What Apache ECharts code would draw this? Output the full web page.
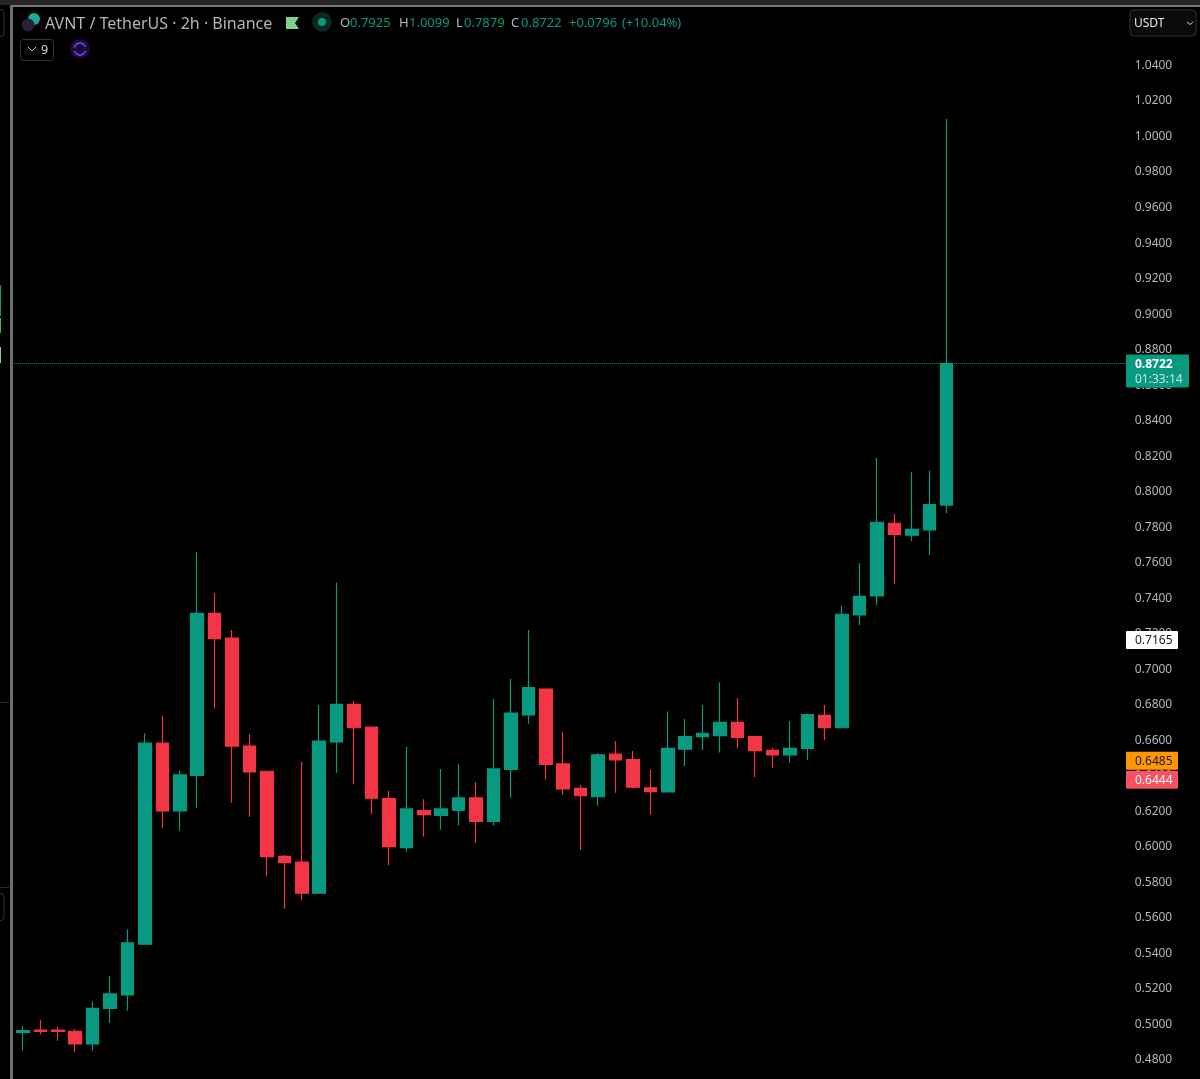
<!DOCTYPE html>
<html>
<head>
<meta charset="utf-8">
<title>AVNT / TetherUS</title>
<script src="https://cdn.jsdelivr.net/npm/echarts@6/dist/echarts.min.js"></script>
<style>
  html, body { margin: 0; padding: 0; background: #000; }
  #chart { width: 1200px; height: 1079px; }
</style>
</head>
<body>
<div id="chart"></div>
<script>
// candles, oldest first
const opens = [0.4955, 0.4969, 0.4969, 0.4962, 0.4890, 0.5091, 0.5166, 0.5452, 0.6584, 0.6202, 0.6403, 0.7315, 0.7176, 0.6568, 0.6426, 0.5947, 0.5914, 0.5739, 0.6591, 0.6803, 0.6674, 0.6272, 0.5996, 0.6204, 0.6178, 0.6206, 0.6276, 0.6144, 0.6437, 0.6743, 0.6889, 0.6467, 0.6330, 0.6283, 0.6522, 0.6491, 0.6333, 0.6309, 0.6550, 0.6621, 0.6626, 0.6702, 0.6621, 0.6544, 0.6518, 0.6555, 0.6741, 0.6671, 0.7306, 0.7413, 0.7822, 0.7755, 0.7785, 0.7925];
const closes = [0.4965, 0.4961, 0.4961, 0.4890, 0.5091, 0.5172, 0.5459, 0.6584, 0.6202, 0.6405, 0.7315, 0.7172, 0.6567, 0.6422, 0.5945, 0.5911, 0.5739, 0.6596, 0.6803, 0.6671, 0.6274, 0.6001, 0.6214, 0.6182, 0.6214, 0.6276, 0.6144, 0.6439, 0.6754, 0.6897, 0.6465, 0.6326, 0.6288, 0.6519, 0.6490, 0.6336, 0.6311, 0.6555, 0.6621, 0.6640, 0.6702, 0.6617, 0.6542, 0.6518, 0.6555, 0.6745, 0.6671, 0.7310, 0.7411, 0.7828, 0.7760, 0.7788, 0.7927, 0.8722];
const lows = [0.4853, 0.4943, 0.4909, 0.4847, 0.4853, 0.5010, 0.5078, 0.5452, 0.6107, 0.6091, 0.6221, 0.6781, 0.6249, 0.6170, 0.5838, 0.5652, 0.5703, 0.5739, 0.6418, 0.6356, 0.6187, 0.5898, 0.5973, 0.6058, 0.6097, 0.6120, 0.6024, 0.6120, 0.6277, 0.6694, 0.6379, 0.6294, 0.5983, 0.6232, 0.6305, 0.6330, 0.6182, 0.6309, 0.6456, 0.6546, 0.6531, 0.6555, 0.6394, 0.6446, 0.6474, 0.6490, 0.6602, 0.6671, 0.7250, 0.7362, 0.7482, 0.7723, 0.7644, 0.7879];
const highs = [0.4992, 0.5026, 0.4986, 0.4973, 0.5129, 0.5273, 0.5536, 0.6640, 0.6737, 0.6429, 0.7661, 0.7428, 0.7222, 0.6636, 0.6428, 0.5955, 0.6478, 0.6799, 0.7488, 0.6820, 0.6675, 0.6315, 0.6564, 0.6268, 0.6439, 0.6465, 0.6364, 0.6833, 0.6946, 0.7222, 0.6889, 0.6646, 0.6349, 0.6529, 0.6596, 0.6540, 0.6435, 0.6762, 0.6720, 0.6799, 0.6927, 0.6837, 0.6621, 0.6559, 0.6709, 0.6750, 0.6799, 0.7358, 0.7597, 0.8190, 0.7875, 0.8113, 0.8119, 1.0099];

// price tags on the right scale
const tagPrices = [0.7165, 0.6485, 0.6444];
const tagFills = ['#ffffff', '#ff9800', '#f7525f'];
const tagTexts = ['#131722', '#131722', '#ffffff'];
const lastPrice = 0.8722;
const countdown = '01:33:14';

const UP = '#089981';
const DOWN = '#f23645';
const FONT = '"Noto Sans", "Open Sans", sans-serif';

// 10 empty slots on the right, the chart keeps room for future bars
const categories = [];
for (let i = 0; i < 64; i++) categories.push(String(i));
const candles = opens.map((o, i) => [o, closes[i], lows[i], highs[i]]);

const myChart = echarts.init(document.getElementById('chart'));

myChart.setOption({
  animation: false,
  backgroundColor: '#000000',
  grid: { left: 14.2, top: 30, width: 1115.5, height: 1030 },
  xAxis: { type: 'category', data: categories, show: false },
  yAxis: {
    type: 'value',
    position: 'right',
    min: 0.48,
    max: 1.06,
    interval: 0.02,
    axisLine: { show: false },
    axisTick: { show: false },
    splitLine: { show: false },
    axisLabel: {
      margin: 5,
      padding: [2, 0, 0, 0],
      color: '#b2b5be',
      fontFamily: FONT,
      fontSize: 12,
      // 1.06 sits behind the currency button
      formatter: v => (v > 1.05 ? '' : v.toFixed(4))
    }
  },
  series: [
    {
      type: 'candlestick',
      data: candles,
      barWidth: 13,
      itemStyle: { color: UP, color0: DOWN, borderColor: UP, borderColor0: DOWN, borderWidth: 1.2 },
      markLine: {
        silent: true,
        symbol: 'none',
        precision: 4, // default of 2 moves the line to 0.87
        label: { show: false },
        lineStyle: { color: UP, type: 'dotted', width: 1 },
        data: [{ yAxis: lastPrice }]
      }
    }
  ]
});

function label(text, x, y, fill, size, weight) {
  return {
    type: 'text', z: 100, x, y,
    style: { text, fill, font: (weight || 'normal') + ' ' + size + 'px ' + FONT, textVerticalAlign: 'middle' }
  };
}
function box(x, y, width, height, fill, stroke, r) {
  return {
    type: 'rect', z: 99,
    shape: { x, y, width, height, r: r || 0 },
    style: { fill, stroke: stroke || 'none', lineWidth: 1 }
  };
}

// tags follow the axis, a tag that would overlap the one above gets pushed down
const els = [];
const yOf = p => myChart.convertToPixel({ yAxisIndex: 0 }, p);
let prevBottom = -1;
tagPrices.forEach((p, i) => {
  const top = Math.max(yOf(p) - 9, prevBottom + 1);
  els.push(box(1126, top, 52, 18, tagFills[i], null, 1));
  els.push(label(p.toFixed(4), 1135, top + 9.5, tagTexts[i], 12));
  prevBottom = top + 18;
});
const lastTop = yOf(lastPrice) - 9;
els.push(box(1126, lastTop, 63, 33, UP, null, 1));
els.push(label(lastPrice.toFixed(4), 1135, lastTop + 10, '#ffffff', 12, 'bold'));
els.push(label(countdown, 1135, lastTop + 25, '#c4e6df', 12));

// window frame
els.push(box(0, 0, 1200, 5, '#262626'));
els.push(box(13, 5, 1187, 2, '#7a7a7a'));
els.push(box(10, 5, 3, 1074, '#6e6e6e'));
els.push(box(0, 285, 1, 31, '#089981'));
els.push(box(0, 318, 1, 15, '#4caf50'));
els.push(box(0, 347, 1, 16, '#7fcf8f'));
els.push(box(0, 702, 9, 1, '#2a2e39'));
els.push(box(0, 887, 9, 1, '#2a2e39'));
els.push(box(-4, 9.5, 8, 27, '#000000', '#333333', 3));
els.push(box(-4, 893.5, 8, 27, '#000000', '#333333', 3));

// legend row
els.push({ type: 'circle', z: 100, shape: { cx: 34, cy: 19, r: 6 }, style: { fill: '#1fa79a' } });
els.push({ type: 'circle', z: 101, shape: { cx: 28, cy: 25, r: 6.5 }, style: { fill: '#24233a' } });
els.push(label('AVNT / TetherUS · 2h · Binance', 45, 24, '#b2b5be', 16));
els.push({ type: 'polygon', z: 100, shape: { points: [[286, 17], [299, 17], [295, 23], [299, 29], [286, 29]] }, style: { fill: '#7fcf8f' } });
els.push({ type: 'circle', z: 100, shape: { cx: 322, cy: 22, r: 10 }, style: { fill: '#0c2622' } });
els.push({ type: 'circle', z: 101, shape: { cx: 322, cy: 22, r: 4 }, style: { fill: UP } });
[['O', 340, '#b2b5be'], ['0.7925', 350, UP], ['H', 399, '#b2b5be'], ['1.0099', 409, UP], ['L', 456, '#b2b5be'], ['0.7879', 464, UP], ['C', 511, '#b2b5be'], ['0.8722', 521, UP], ['+0.0796', 569, UP], ['(+10.04%)', 622, UP]]
  .forEach(t => els.push(label(t[0], t[1], 23, t[2], 13)));

// collapsed indicators button and the purple icon
els.push(box(20.5, 39.5, 33, 21, '#000000', '#363636', 3));
els.push({ type: 'polyline', z: 100, shape: { points: [[28, 47], [32, 51], [36, 47]] }, style: { stroke: '#d1d4dc', lineWidth: 1, fill: 'none' } });
els.push(label('9', 41, 50, '#d1d4dc', 12.5));
els.push({ type: 'circle', z: 100, shape: { cx: 80, cy: 49, r: 10 }, style: { fill: '#170d2e' } });
els.push({ type: 'arc', z: 101, shape: { cx: 80, cy: 49, r: 6, startAngle: 3.4, endAngle: 5.9 }, style: { stroke: '#6f2df5', lineWidth: 2, fill: 'none' } });
els.push({ type: 'arc', z: 101, shape: { cx: 80, cy: 49, r: 6, startAngle: 0.3, endAngle: 2.8 }, style: { stroke: '#6f2df5', lineWidth: 2, fill: 'none' } });

// currency button
els.push(box(1130, 10, 66, 26, '#0a0a0a', '#333333', 4));
els.push(label('USDT', 1134, 24, '#e6e8ee', 12));
els.push({ type: 'polyline', z: 100, shape: { points: [[1187, 22], [1190, 24.5], [1193, 22]] }, style: { stroke: '#d1d4dc', lineWidth: 1, fill: 'none' } });

myChart.setOption({ graphic: { elements: els } });
</script>
</body>
</html>
